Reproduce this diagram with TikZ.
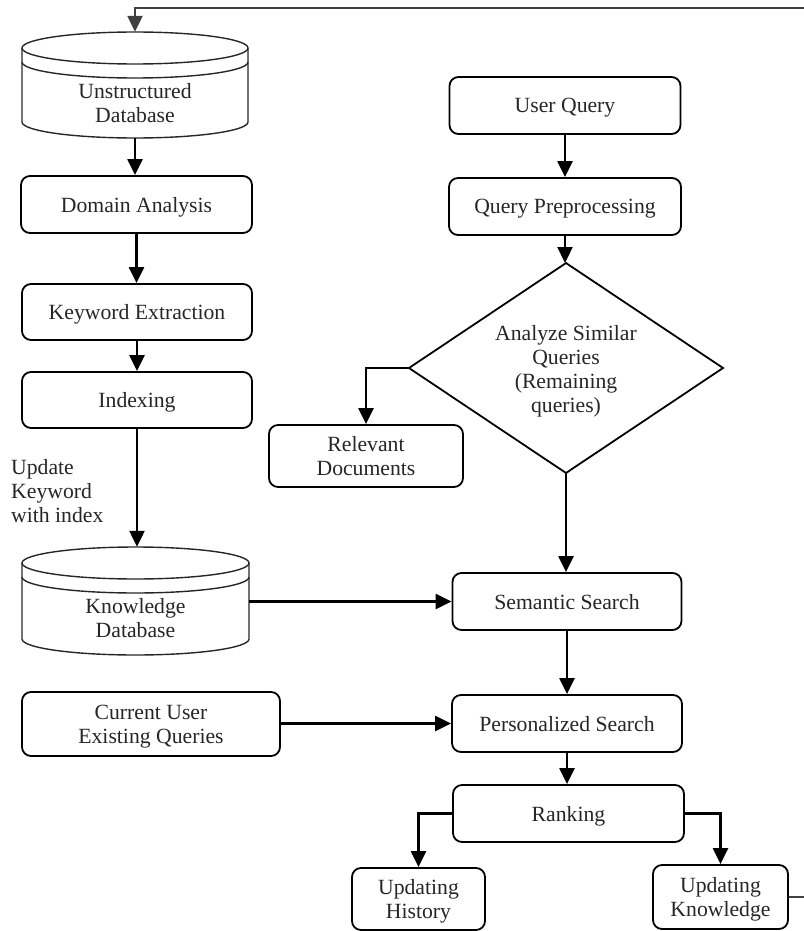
\documentclass[tikz,border=0pt]{standalone}
\usepackage{fontspec}
\setmainfont{Liberation Serif}
\usetikzlibrary{arrows.meta}
\begin{document}
\begin{tikzpicture}[x=1pt,y=-1pt,
  every node/.style={font=\fontsize{21.7}{24}\selectfont, text=black!85, text depth=0pt},
  procbox/.style={draw, line width=1.8pt, rounded corners=9pt, align=center, inner sep=0pt},
  flow/.style={line width=2.3pt, -{Triangle[length=16pt,width=15pt]}},
  cylline/.style={line width=1.4pt, draw=black!85},
]
\useasboundingbox (0,0) rectangle (803,931);

% ---- database cylinders ----
% Unstructured Database
\draw[cylline] (135,48) ellipse [x radius=113pt, y radius=16pt];
\draw[cylline] (22,62) arc[start angle=180, end angle=360, x radius=113pt, y radius=16pt];
\draw[cylline] (22,48) -- (22,122) arc[start angle=180, end angle=360, x radius=113pt, y radius=16pt] -- (248,48);
\node[minimum width=226pt, minimum height=106pt, inner sep=0pt] (udb) at (135,85) {};
\node[align=center] (udbt) at (135,103) {Unstructured\\Database};

% Knowledge Database
\draw[cylline] (135.5,563) ellipse [x radius=113.5pt, y radius=16pt];
\draw[cylline] (22,577) arc[start angle=180, end angle=360, x radius=113.5pt, y radius=16pt];
\draw[cylline] (22,563) -- (22,639) arc[start angle=180, end angle=360, x radius=113.5pt, y radius=16pt] -- (249,563);
\node[minimum width=227pt, minimum height=108pt, inner sep=0pt] (kdb) at (135.5,601) {};
\node[align=center] (kdbt) at (135.5,618) {Knowledge\\Database};

% ---- left column ----
\node[procbox, minimum width=231pt, minimum height=57pt] (da) at (136.5,204.5) {Domain Analysis};
\node[procbox, minimum width=230pt, minimum height=56pt] (ke) at (137,312) {Keyword Extraction};
\node[procbox, minimum width=230pt, minimum height=56pt] (ix) at (137,400) {Indexing};
\node[align=left, anchor=west, inner sep=0pt] (upd) at (11,491) {Update\\Keyword\\with index};
\node[procbox, minimum width=258pt, minimum height=64pt] (cu) at (151,724) {Current User\\Existing Queries};

% ---- right column ----
\node[procbox, minimum width=231pt, minimum height=57pt] (uq) at (565,105.5) {User Query};
\node[procbox, minimum width=232pt, minimum height=57pt] (qp) at (565,206.5) {Query Preprocessing};

% decision diamond: outline through its four corner points
\coordinate (diaN) at (566,263);
\coordinate (diaW) at (409,368);
\coordinate (diaS) at (566,473);
\coordinate (diaE) at (723,368);
\draw[line width=1.8pt, line join=miter] (diaN) -- (diaE) -- (diaS) -- (diaW) -- cycle;
\node[align=center, inner sep=0pt] (dia) at (566,369) {Analyze Similar\\Queries\\(Remaining\\queries)};

\node[procbox, minimum width=194pt, minimum height=62pt] (rd) at (366,456) {Relevant\\Documents};
\node[procbox, minimum width=229pt, minimum height=57pt] (ss) at (567,601.5) {Semantic Search};
\node[procbox, minimum width=230pt, minimum height=57pt] (ps) at (567,723.5) {Personalized Search};
\node[procbox, minimum width=231pt, minimum height=57pt] (rk) at (568.5,813.5) {Ranking};
\node[procbox, minimum width=133pt, minimum height=62pt] (uh) at (418.5,899) {Updating\\History};
\node[procbox, minimum width=135pt, minimum height=64pt] (uk) at (720.5,897) {Updating\\Knowledge};

% ---- connectors ----
\coordinate (loop) at (815,8);
\draw[flow, draw=black!75] (uk.east) -- (uk.east -| loop) -- (loop) -- (loop -| udb.north) -- (udb.north);

\draw[flow] (udb.south) -- (udb.south |- da.north);
\draw[flow] (da.south) -- (da.south |- ke.north);
\draw[flow] (ke.south) -- (ke.south |- ix.north);
\draw[flow] (ix.south) -- (ix.south |- kdb.north);
\draw[flow] (kdb.east |- ss.west) -- (ss.west);
\draw[flow] (cu.east |- ps.west) -- (ps.west);

\draw[flow] (uq.south) -- (uq.south |- qp.north);
\draw[flow] (qp.south) -- (qp.south |- diaN);
\draw[flow] (diaW) -- (diaW -| rd.north) -- (rd.north);
\draw[flow] (diaS) -- (diaS |- ss.north);
\draw[flow] (ss.south) -- (ss.south |- ps.north);
\draw[flow] (ps.south) -- (ps.south |- rk.north);
\draw[flow] (rk.west) -- (rk.west -| uh.north) -- (uh.north);
\draw[flow] (rk.east) -- (rk.east -| uk.north) -- (uk.north);
\end{tikzpicture}
\end{document}
